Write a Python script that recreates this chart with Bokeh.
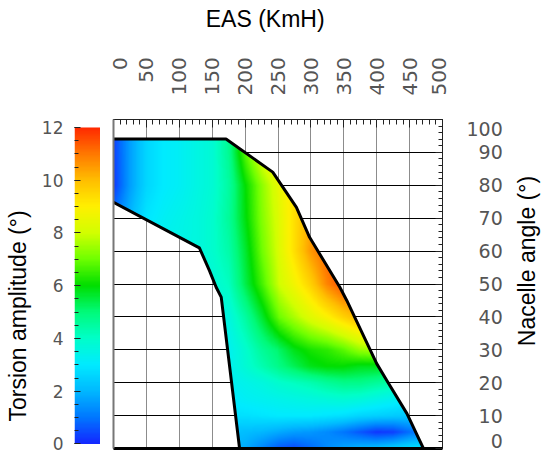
import numpy as np
from math import pi
from bokeh.plotting import figure
from bokeh.layouts import row
from bokeh.models import (Range1d, LinearAxis, FixedTicker, LinearColorMapper,
                          CustomJSTickFormatter, Grid)
from bokeh.embed import file_html
from bokeh.resources import INLINE

# ---------------- data ----------------
eas_ticks = [0, 50, 100, 150, 200, 250, 300, 350, 400, 450, 500]
eas_tick_labels = ["0", "50", "100", "150", "200", "250", "300", "350", "400", "450", "500"]
angle_ticks = [0, 10, 20, 30, 40, 50, 60, 70, 80, 90, 100]
angle_tick_labels = ["0", "10", "20", "30", "40", "50", "60", "70", "80", "90", "100"]
torsion_ticks = [0, 2, 4, 6, 8, 10, 12]

# sampled torsion amplitude field (deg): columns = EAS, rows = nacelle angle
grid_eas = [0, 25, 50, 75, 100, 125, 150, 175, 200, 225, 250, 275, 300, 325, 350, 375, 400, 425, 450, 475, 500]
grid_angle = [0, 5, 10, 15, 20, 25, 30, 40, 50, 60, 70, 80, 90, 100]
amp_a0 = [3.3, 3.3, 3.3, 3.3, 3.3, 3.0, 2.6, 2.0, 1.8, 1.2, 0.6, 0.4, 0.8, 1.3, 1.7, 2.0, 2.2, 2.5, 2.8, 3.0, 3.0]
amp_a5 = [3.3, 3.3, 3.3, 3.3, 3.3, 3.0, 2.6, 2.2, 2.1, 2.0, 1.8, 1.6, 1.5, 1.3, 1.0, 0.6, 0.2, 0.3, 0.9, 1.2, 1.2]
amp_a10 = [3.3, 3.3, 3.3, 3.3, 3.3, 3.0, 2.9, 2.8, 2.8, 2.9, 3.0, 3.0, 3.0, 2.9, 2.8, 2.6, 2.5, 2.4, 2.3, 2.3, 2.3]
amp_a15 = [3.3, 3.3, 3.3, 3.3, 3.3, 3.2, 3.1, 3.0, 3.2, 3.3, 3.4, 3.5, 3.6, 3.7, 3.8, 3.7, 3.5, 3.3, 3.1, 3.1, 3.1]
amp_a20 = [3.3, 3.3, 3.3, 3.3, 3.3, 3.3, 3.2, 3.2, 3.4, 3.6, 3.9, 4.1, 4.3, 4.6, 4.8, 4.8, 4.6, 4.4, 4.2, 4.2, 4.2]
amp_a25 = [3.3, 3.3, 3.3, 3.3, 3.3, 3.3, 3.3, 3.3, 3.8, 4.3, 4.8, 5.3, 5.8, 6.0, 6.0, 5.8, 5.8, 5.6, 5.6, 5.6, 5.6]
amp_a30 = [3.3, 3.3, 3.3, 3.3, 3.3, 3.3, 3.3, 3.3, 3.9, 4.6, 5.1, 5.8, 6.2, 6.4, 6.8, 7.4, 7.6, 7.6, 7.6, 7.6, 7.6]
amp_a40 = [3.4, 3.4, 3.4, 3.4, 3.4, 3.5, 3.5, 3.6, 4.5, 5.6, 6.9, 7.6, 8.3, 8.9, 9.6, 10.2, 10.5, 10.5, 10.5, 10.5, 10.5]
amp_a50 = [3.5, 3.5, 3.5, 3.5, 3.6, 3.6, 3.7, 4.1, 5.4, 6.6, 7.9, 8.7, 9.6, 10.8, 11.6, 11.8, 11.8, 11.8, 11.8, 11.8, 11.8]
amp_a60 = [3.4, 3.4, 3.4, 3.4, 3.5, 3.6, 3.9, 4.4, 5.6, 7.0, 8.1, 9.3, 10.5, 11.3, 11.7, 11.8, 11.8, 11.8, 11.8, 11.8, 11.8]
amp_a70 = [1.0, 2.0, 2.9, 3.2, 3.4, 3.6, 3.9, 4.6, 5.9, 7.2, 8.2, 9.3, 10.3, 11.0, 11.5, 11.8, 11.8, 11.8, 11.8, 11.8, 11.8]
amp_a80 = [0.2, 1.6, 2.6, 3.0, 3.2, 3.5, 3.8, 4.5, 6.0, 7.3, 8.4, 9.3, 10.3, 11.0, 11.5, 11.8, 11.8, 11.8, 11.8, 11.8, 11.8]
amp_a90 = [0.3, 1.6, 2.6, 3.0, 3.2, 3.5, 3.8, 4.7, 6.8, 8.3, 9.3, 10.2, 10.8, 11.2, 11.5, 11.8, 11.8, 11.8, 11.8, 11.8, 11.8]
amp_a100 = [0.3, 1.6, 2.6, 3.0, 3.2, 3.5, 3.8, 4.7, 6.8, 8.3, 9.3, 10.2, 10.8, 11.2, 11.5, 11.8, 11.8, 11.8, 11.8, 11.8, 11.8]

# flight envelope boundary (EAS, nacelle angle)
envelope_eas = [0, 171, 242, 278, 298, 344, 354.5, 400, 415.6, 446, 471, 191.6, 163.7, 156, 146, 130.5, 0]
envelope_angle = [94.1, 94.1, 84, 73.3, 64.2, 49, 45, 25.8, 20.6, 10.6, 0, 0, 46, 49, 54, 61, 74.8]

# colour scale anchors (jet-like)
cmap_vals = [0, 1, 2, 3, 4, 5, 6, 7, 8, 9, 10, 11, 12]
cmap_r = [20, 0, 0, 0, 0, 0, 0, 110, 210, 255, 255, 255, 255]
cmap_g = [40, 120, 185, 235, 255, 250, 222, 255, 255, 240, 190, 120, 40]
cmap_b = [255, 255, 255, 255, 200, 120, 0, 0, 0, 0, 0, 0, 0]

# ---------------- build field ----------------
Z = np.array([amp_a0, amp_a5, amp_a10, amp_a15, amp_a20, amp_a25, amp_a30, amp_a40,
              amp_a50, amp_a60, amp_a70, amp_a80, amp_a90, amp_a100])
ge = np.array(grid_eas, float)
ga = np.array(grid_angle, float)
nx, ny = 330, 329
xs = (np.arange(nx) + 0.5) / nx * 500
ys = (np.arange(ny) + 0.5) / ny * 100
tmp = np.array([np.interp(xs, ge, r) for r in Z])
img = np.array([np.interp(ys, ga, tmp[:, i]) for i in range(nx)]).T

PX, PY = np.meshgrid(xs, ys)
vx = np.array(envelope_eas, float)
vy = np.array(envelope_angle, float)
inside = np.zeros(PX.shape, bool)
j = len(vx) - 1
with np.errstate(divide="ignore", invalid="ignore"):
    for i in range(len(vx)):
        c1 = (vy[i] > PY) != (vy[j] > PY)
        xint = (vx[j] - vx[i]) * (PY - vy[i]) / (vy[j] - vy[i]) + vx[i]
        inside ^= c1 & (PX < xint)
        j = i
img[~inside] = np.nan

tv = np.linspace(0, 12, 256)
palette = ["#%02x%02x%02x" % (int(round(np.interp(t, cmap_vals, cmap_r))),
                              int(round(np.interp(t, cmap_vals, cmap_g))),
                              int(round(np.interp(t, cmap_vals, cmap_b)))) for t in tv]
mapper = LinearColorMapper(palette=palette, low=0, high=12, nan_color=(0, 0, 0, 0))

TICK_FONT = "DejaVu Sans"
TITLE_FONT = "Liberation Sans"
LABEL_COLOR = "#555555"
TICK_COLOR = "#222222"
FS = "\u2007"  # figure space, used to right-align labels / nudge titles


def pad(s, n=3):
    return FS * (n - len(s)) + s


def empty_fmt():
    return CustomJSTickFormatter(code="return ''")


# ---------------- colour bar figure ----------------
cb = figure(width=100, height=454, x_range=Range1d(0, 1), y_range=Range1d(-0.171, 12.303),
            toolbar_location=None, output_backend="svg", x_axis_location=None,
            min_border_left=74, min_border_right=0, min_border_top=119, min_border_bottom=6)
cb.grid.visible = False
cb.outline_line_color = None
cb.image(image=[tv.reshape(-1, 1)], x=0, y=0, dw=1, dh=12, color_mapper=mapper)
ya = cb.yaxis[0]
ya.ticker = FixedTicker(ticks=torsion_ticks, minor_ticks=list(np.arange(0, 12.01, 0.5)))
ya.axis_line_color = None
ya.major_tick_in = 6
ya.major_tick_out = 0
ya.minor_tick_in = 4
ya.minor_tick_out = 0
ya.major_tick_line_color = TICK_COLOR
ya.minor_tick_line_color = TICK_COLOR
ya.major_label_standoff = 11
ya.major_label_text_font = TICK_FONT
ya.major_label_text_font_size = "17px"
ya.major_label_text_color = LABEL_COLOR
ya.axis_label = "Torsion amplitude (°)" + FS * 5
ya.axis_label_standoff = 8
ya.axis_label_text_font = TITLE_FONT
ya.axis_label_text_font_size = "23px"
ya.axis_label_text_font_style = "normal"
ya.axis_label_text_color = "black"

# ---------------- main figure ----------------
p = figure(width=455, height=454, x_range=Range1d(0, 500), y_range=Range1d(0, 100),
           toolbar_location=None, output_backend="svg", x_axis_location=None, y_axis_location=None,
           min_border_left=13, min_border_right=112, min_border_top=119, min_border_bottom=6)
p.outline_line_color = TICK_COLOR
p.outline_line_width = 1

p.add_layout(Grid(dimension=0, ticker=FixedTicker(ticks=eas_ticks[1:-1]),
                  grid_line_color="#8c8c8c", grid_line_width=1))
p.add_layout(Grid(dimension=1, ticker=FixedTicker(ticks=angle_ticks[1:-1]),
                  grid_line_color="black", grid_line_width=1))

p.image(image=[img], x=0, y=0, dw=500, dh=100, color_mapper=mapper)
p.line(envelope_eas, envelope_angle, line_width=3, line_color="black", line_join="round")

# tick-mark axes (inside ticks only)
top_ticks = LinearAxis(ticker=FixedTicker(ticks=eas_ticks, minor_ticks=list(range(0, 501, 10))),
                       formatter=empty_fmt(), axis_line_color=None, major_label_standoff=0,
                       major_label_text_font_size="0px",
                       major_tick_in=8, major_tick_out=0, minor_tick_in=5, minor_tick_out=0,
                       major_tick_line_color=TICK_COLOR, minor_tick_line_color=TICK_COLOR)
p.add_layout(top_ticks, "above")
right_ticks = LinearAxis(ticker=FixedTicker(ticks=angle_ticks, minor_ticks=list(range(0, 101, 2))),
                         formatter=empty_fmt(), axis_line_color=None, major_label_standoff=0,
                         major_label_text_font_size="0px",
                         major_tick_in=7, major_tick_out=0, minor_tick_in=4, minor_tick_out=0,
                         major_tick_line_color=TICK_COLOR, minor_tick_line_color=TICK_COLOR)
p.add_layout(right_ticks, "right")

# label axes (end labels nudged inwards as in the original)
top_pos = [eas_ticks[0] + 10] + eas_ticks[1:-1] + [eas_ticks[-1] - 6]
top_labels = LinearAxis(ticker=FixedTicker(ticks=top_pos, minor_ticks=[]),
                        major_label_overrides={v: pad(t) for v, t in zip(top_pos, eas_tick_labels)},
                        axis_line_color=None, major_tick_line_color=None, minor_tick_line_color=None,
                        major_tick_in=0, major_tick_out=0, major_label_standoff=24,
                        major_label_orientation="vertical",
                        major_label_text_font=TICK_FONT, major_label_text_font_size="20px",
                        major_label_text_color=LABEL_COLOR,
                        axis_label="EAS (KmH)" + FS * 2, axis_label_standoff=22,
                        axis_label_text_font=TITLE_FONT, axis_label_text_font_size="23px",
                        axis_label_text_font_style="normal", axis_label_text_color="black")
p.add_layout(top_labels, "above")

right_pos = [angle_ticks[0] + 2.3] + angle_ticks[1:-1] + [angle_ticks[-1] - 3]
right_labels = LinearAxis(ticker=FixedTicker(ticks=right_pos, minor_ticks=[]),
                          major_label_overrides={v: pad(t) for v, t in zip(right_pos, angle_tick_labels)},
                          axis_line_color=None, major_tick_line_color=None, minor_tick_line_color=None,
                          major_tick_in=0, major_tick_out=0, major_label_standoff=24,
                          major_label_text_font=TICK_FONT, major_label_text_font_size="19px",
                          major_label_text_color=LABEL_COLOR,
                          axis_label_standoff=21,
                          axis_label_text_font=TITLE_FONT, axis_label_text_font_size="23px",
                          axis_label_text_font_style="normal", axis_label_text_color="black")
right_title = "Nacelle angle (°)"
try:
    right_labels.axis_label_orientation = pi / 2   # read bottom-to-top, as on the left
    try:
        right_labels.axis_label_align = "start"
        right_labels.axis_label = FS * 8 + right_title
    except Exception:
        right_labels.axis_label = right_title
except Exception:
    right_labels.axis_label = right_title + FS * 4
p.add_layout(right_labels, "right")

bottom = LinearAxis(ticker=FixedTicker(ticks=[]), formatter=empty_fmt(),
                    major_label_text_font_size="0px", major_label_standoff=0,
                    axis_line_color="black", axis_line_width=3)
p.add_layout(bottom, "below")
left = LinearAxis(ticker=FixedTicker(ticks=[]), formatter=empty_fmt(),
                  major_label_text_font_size="0px", major_label_standoff=0,
                  axis_line_color="#777777", axis_line_width=2)
p.add_layout(left, "left")

layout = row(cb, p)
open("out.html", "w").write(file_html(layout, INLINE))
